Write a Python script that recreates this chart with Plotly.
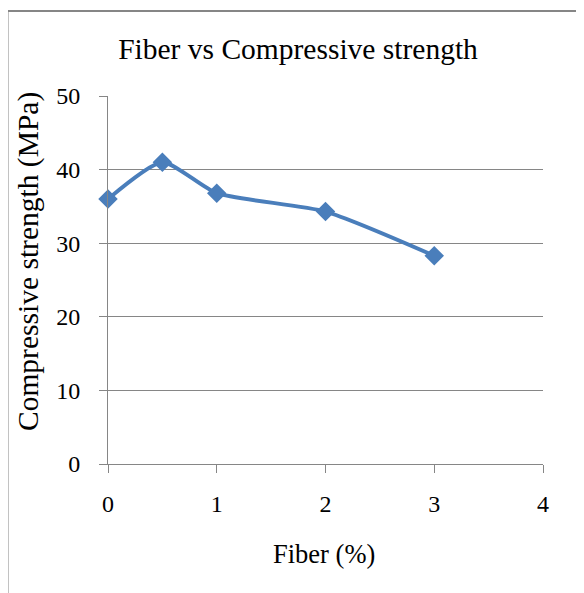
import plotly.graph_objects as go

fiber = [0, 0.5, 1, 2, 3]
strength = [36.0, 41.0, 36.8, 34.3, 28.3]
x_ticks = [0, 1, 2, 3, 4]
y_ticks = [0, 10, 20, 30, 40, 50]

FONT = "Liberation Serif, Times New Roman, serif"
GRAY = "#868686"
OFF = 8  # page body margin

fig = go.Figure()
fig.add_trace(go.Scatter(
    x=fiber, y=strength, mode="lines+markers",
    line=dict(color="#4a7ebb", width=4, shape="spline", smoothing=0.6),
    marker=dict(symbol="diamond", size=15, color="#4a7ebb"),
    showlegend=False, cliponaxis=False,
))

W, H = 584 - OFF, 593 - OFF
L, R, T, B = 108 - OFF, 543 - OFF, 96 - OFF, 464 - OFF
pw, ph = R - L, B - T

def px(x):
    return (x - OFF - L) / pw

def py(y):
    return (B - (y - OFF)) / ph

fig.update_layout(
    width=W, height=H,
    margin=dict(l=L, r=W - R, t=T, b=H - B, pad=0),
    paper_bgcolor="white", plot_bgcolor="white",
    font=dict(family=FONT, color="black", size=24),
    title=dict(text="Fiber vs Compressive strength", x=(298 - OFF) / W, xanchor="center",
               y=1 - (49 - OFF) / H, yanchor="middle", font=dict(size=29.5, family=FONT)),
    xaxis=dict(range=[0, 4], tickvals=x_ticks, showgrid=False, showline=True,
               linecolor=GRAY, linewidth=1, ticks="outside", ticklen=8, tickcolor=GRAY,
               zeroline=False, ticklabelstandoff=10, tickfont=dict(size=24)),
    yaxis=dict(range=[0, 50], tickvals=y_ticks, showgrid=True, gridcolor=GRAY, gridwidth=1,
               showline=True, linecolor=GRAY, linewidth=1, ticks="outside", ticklen=8,
               tickcolor=GRAY, zeroline=False, ticklabelstandoff=14, tickfont=dict(size=24)),
    annotations=[
        dict(text="Fiber (%)", xref="paper", yref="paper", x=px(324), y=py(554),
             xanchor="center", yanchor="middle", showarrow=False, font=dict(size=26.5)),
        dict(text="Compressive strength (MPa)", xref="paper", yref="paper", x=px(28), y=py(262),
             xanchor="center", yanchor="middle", textangle=-90, showarrow=False,
             font=dict(size=29.5)),
    ],
    shapes=[
        dict(type="rect", xref="paper", yref="paper", x0=px(7.5), x1=px(620), y0=py(630), y1=py(11),
             line=dict(color=GRAY, width=2), fillcolor="rgba(0,0,0,0)", layer="below"),
    ],
)

fig.write_html("out.html")
